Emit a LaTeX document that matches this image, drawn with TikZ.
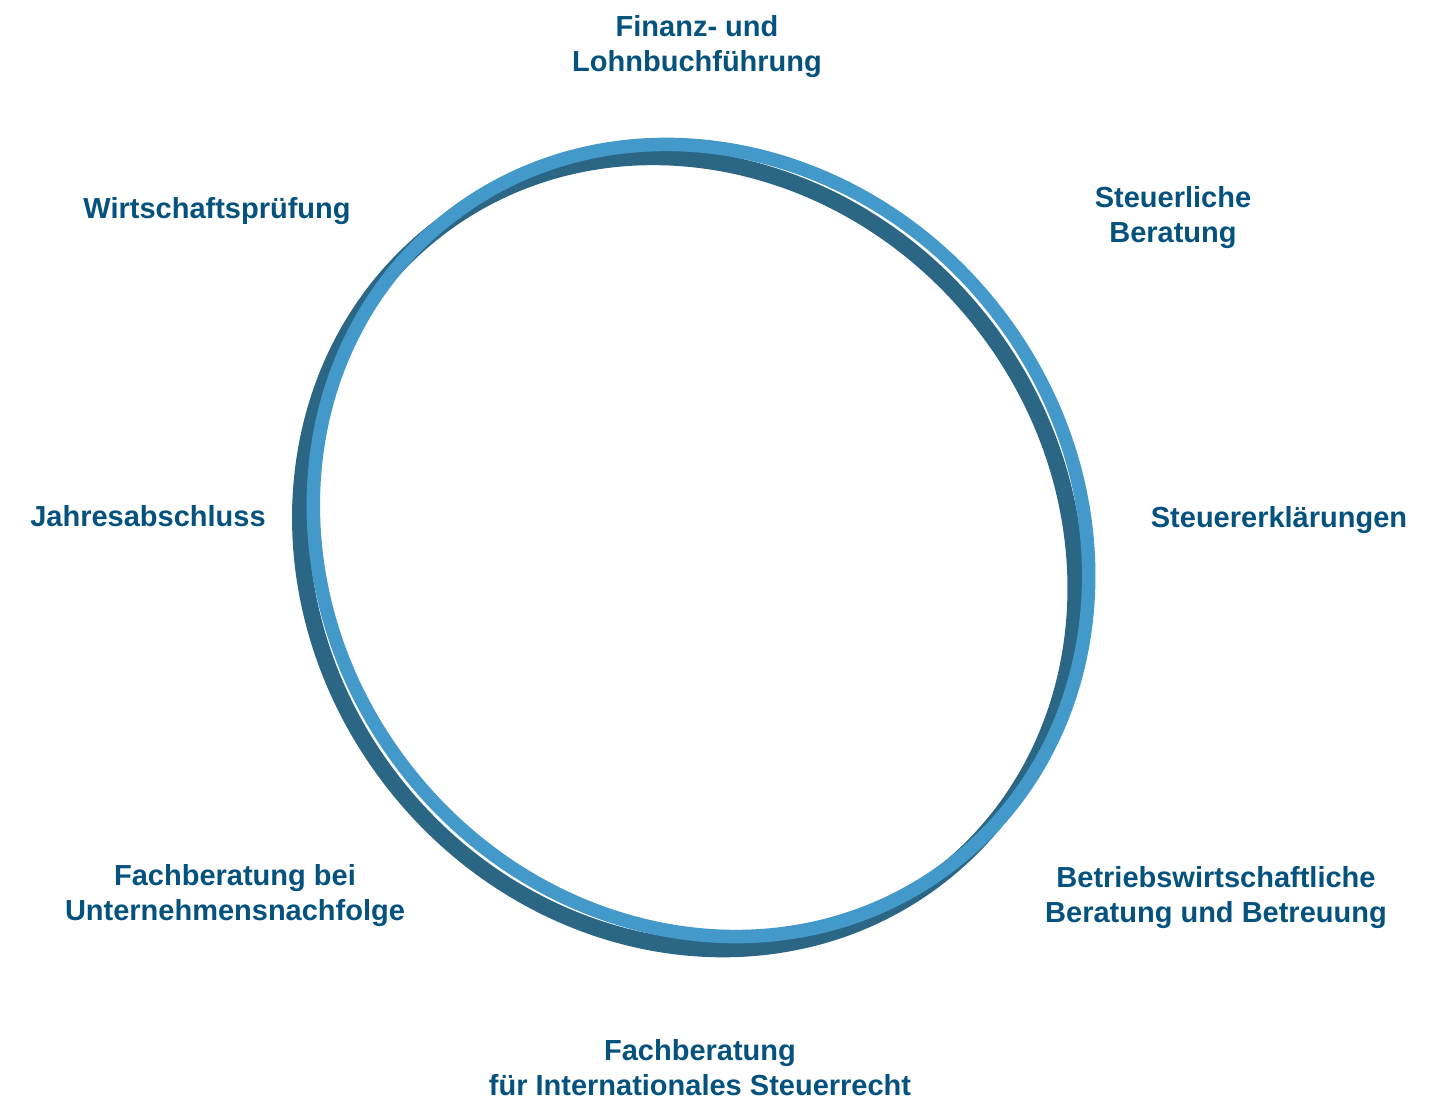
\documentclass[tikz,border=0pt]{standalone}
\usepackage{fontspec}
\setmainfont{Liberation Sans}
\usepackage{tikz}
\definecolor{ringlight}{HTML}{4299CA}
\definecolor{ringdark}{HTML}{2C6685}
\definecolor{labelblue}{HTML}{04527D}

\begin{document}
\begin{tikzpicture}[x=1pt,y=1pt,
	leistung/.style={font=\bfseries\fontsize{29}{35.5}\selectfont, text=labelblue,
		align=center, inner sep=0pt, anchor=base},
	reif/.style={line width=13.5pt}]
	\useasboundingbox (0,0) rectangle (1439,1099);
	
	\draw[reif, line width=16.5pt, ringdark, rotate around={38.3:(688,546)}] (688,546) ellipse [x radius=373.5, y radius=409.5];
	\draw[reif, ringlight, rotate around={38.3:(701,558.5)}] (701,558.5) ellipse [x radius=373.5, y radius=409.5];
	
	\node[leistung] (fin) at (697,1027.3) {Finanz- und\\Lohnbuchführung};
	\node[leistung] (steu) at (1173,856) {Steuerliche\\Beratung};
	\node[leistung] (erkl) at (1279,571) {Steuererklärungen};
	\node[leistung] (betr) at (1216,176.4) {Betriebswirtschaftliche\\Beratung und Betreuung};
	\node[leistung] (intl) at (700,3.3) {Fachberatung\\für Internationales Steuerrecht};
	\node[leistung] (nachf) at (235,178) {Fachberatung bei\\Unternehmensnachfolge};
	\node[leistung] (jahr) at (148,572) {Jahresabschluss};
	\node[leistung] (wirt) at (217,880.7) {Wirtschaftsprüfung};
\end{tikzpicture}
\end{document}
